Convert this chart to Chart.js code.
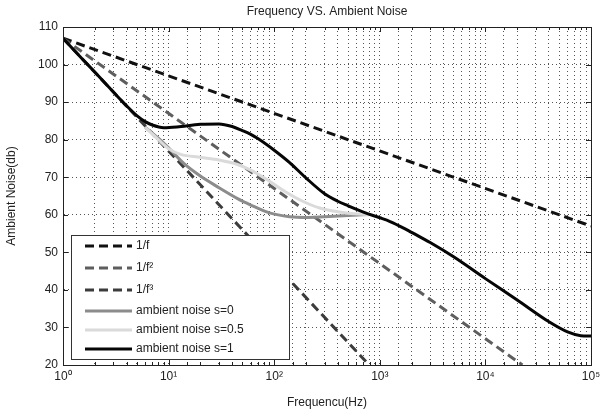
<!DOCTYPE html>
<html><head><meta charset="utf-8">
<script src="https://cdn.jsdelivr.net/npm/chart.js@4.4.1/dist/chart.umd.min.js"></script>
<style>html,body{margin:0;padding:0;background:#fff}#wrap{width:601px;height:410px}</style>
</head><body><div id="wrap"><canvas id="c" width="601" height="410"></canvas></div>
<script>
// ---- data ----
const freqInvF = [1, 100000];
const dbInvF = [107, 57];
const freqInvF2 = [1, 22400];
const dbInvF2 = [107, 20];
const freqInvF3 = [1, 794];
const dbInvF3 = [107, 20];

const freqS0 = [6.0, 8, 10, 14, 20, 30, 45, 60, 90, 140, 200, 300, 500, 800];
const dbS0   = [83.3, 80.4, 77.8, 73.6, 70.3, 67.2, 64.3, 62.6, 60.5, 59.5, 59.3, 59.5, 59.8, 60.1];

const freqS05 = [6.0, 8, 10, 13, 20, 30, 45, 60, 85, 130, 180, 270, 500, 800];
const dbS05   = [83.3, 80.0, 77.6, 76.1, 75.3, 74.6, 73.4, 71.9, 69.4, 66.0, 63.8, 61.8, 60.4, 60.0];

const freqS1 = [1, 1.5, 2, 3, 4, 5, 6, 7, 9, 12, 20, 30, 40, 50, 60, 70, 100, 140, 200, 300, 400, 500, 700, 1000, 1250, 1700, 2000, 3000, 5000, 10000, 20000, 40000, 60000, 80000, 100000];
const dbS1   = [107, 101.7, 98.0, 92.7, 89.0, 86.4, 84.8, 83.9, 83.2, 83.4, 84.1, 84.2, 83.5, 82.4, 81.4, 80.3, 77.2, 73.9, 69.8, 65.6, 63.6, 62.4, 60.7, 59.2, 58.2, 56.4, 55.3, 52.6, 48.8, 43.0, 37.3, 31.5, 28.8, 27.8, 27.7];

const seriesLabels = ['1/f', '1/f\u00B2', '1/f\u00B3', 'ambient noise s=0', 'ambient noise s=0.5', 'ambient noise s=1'];
const xTickLabels = ['10\u2070', '10\u00B9', '10\u00B2', '10\u00B3', '10\u2074', '10\u2075'];
const yTickValues = [20, 30, 40, 50, 60, 70, 80, 90, 100, 110];

const titleText = 'Frequency VS. Ambient Noise';
const xTitle = 'Frequencu(Hz)';
const yTitle = 'Ambient Noise(db)';

const pts = (xs, ys) => xs.map((x, i) => ({x: x, y: ys[i]}));
const FONT = '"Liberation Sans", Arial, Helvetica, sans-serif';

const dashed = (label, xs, ys, color, order) => ({
  label, data: pts(xs, ys), borderColor: color, borderWidth: 3,
  borderDash: [9, 5], pointRadius: 0, fill: false, tension: 0, order
});
const solid = (label, xs, ys, color, order) => ({
  label, data: pts(xs, ys), borderColor: color, borderWidth: 3,
  pointRadius: 0, fill: false, cubicInterpolationMode: 'monotone', order
});

const datasets = [
  dashed(seriesLabels[0], freqInvF, dbInvF, '#111111', 6),
  dashed(seriesLabels[1], freqInvF2, dbInvF2, '#5e5e5e', 5),
  dashed(seriesLabels[2], freqInvF3, dbInvF3, '#3c3c3c', 4),
  solid(seriesLabels[3], freqS0, dbS0, '#8c8c8c', 3),
  solid(seriesLabels[4], freqS05, dbS05, '#dadada', 2),
  solid(seriesLabels[5], freqS1, dbS1, '#050505', 1)
];

const decorPlugin = {
  id: 'decor',
  beforeDraw(chart) {
    const ctx = chart.ctx;
    ctx.save();
    ctx.fillStyle = '#ffffff';
    ctx.fillRect(0, 0, chart.width, chart.height);
    ctx.restore();
  },
  afterDraw(chart) {
    const ctx = chart.ctx, a = chart.chartArea;
    const xs = chart.scales.x, ys = chart.scales.y;
    ctx.save();
    ctx.strokeStyle = '#222';
    ctx.lineWidth = 1;
    ctx.strokeRect(Math.round(a.left) + 0.5, Math.round(a.top) + 0.5, Math.round(a.right - a.left), Math.round(a.bottom - a.top));
    ctx.beginPath();
    xs.ticks.forEach(t => {
      const px = Math.round(xs.getPixelForValue(t.value)) + 0.5;
      const l = Math.log10(t.value);
      const len = Math.abs(l - Math.round(l)) < 1e-9 ? 5 : 3;
      ctx.moveTo(px, a.bottom); ctx.lineTo(px, a.bottom - len);
      ctx.moveTo(px, a.top); ctx.lineTo(px, a.top + len);
    });
    ys.ticks.forEach(t => {
      const py = Math.round(ys.getPixelForValue(t.value)) + 0.5;
      ctx.moveTo(a.left, py); ctx.lineTo(a.left + 5, py);
      ctx.moveTo(a.right, py); ctx.lineTo(a.right - 5, py);
    });
    ctx.stroke();
    ctx.fillStyle = '#222';
    ctx.font = '12px ' + FONT;
    ctx.textAlign = 'center';
    ctx.textBaseline = 'middle';
    ctx.fillText(titleText, (a.left + a.right) / 2, 12);
    const bx = 71, by = 235, bw = 218, bh = 124;
    ctx.fillStyle = '#fff';
    ctx.fillRect(bx, by, bw, bh);
    ctx.strokeStyle = '#333';
    ctx.strokeRect(bx + 0.5, by + 0.5, bw, bh);
    const rows = [246, 268, 290, 311, 330, 349];
    chart.data.datasets.forEach((ds, i) => {
      const y = rows[i];
      ctx.save();
      ctx.strokeStyle = ds.borderColor;
      ctx.lineWidth = ds.borderWidth;
      ctx.setLineDash(ds.borderDash || []);
      ctx.beginPath();
      ctx.moveTo(85, y); ctx.lineTo(132, y);
      ctx.stroke();
      ctx.restore();
      ctx.fillStyle = '#222';
      ctx.textAlign = 'left';
      ctx.textBaseline = 'middle';
      ctx.font = '12px ' + FONT;
      ctx.fillText(ds.label, 136, y);
    });
    ctx.restore();
  }
};

new Chart(document.getElementById('c'), {
  type: 'line',
  data: { datasets },
  options: {
    responsive: false,
    animation: false,
    devicePixelRatio: 1,
    layout: { padding: { top: 27, right: 10, left: 0, bottom: 0 } },
    plugins: { legend: { display: false }, title: { display: false }, tooltip: { enabled: false } },
    scales: {
      x: {
        type: 'logarithmic', min: 1, max: 100000, position: 'bottom',
        afterFit: s => { s.height = 45; s.paddingLeft = 0; s.paddingRight = 0; },
        ticks: {
          autoSkip: false, maxRotation: 0, minRotation: 0, padding: 4, color: '#222',
          font: { family: FONT, size: 12 },
          callback: v => {
            const l = Math.log10(v);
            return Math.abs(l - Math.round(l)) < 1e-9 ? xTickLabels[Math.round(l)] : '';
          }
        },
        grid: { color: '#555', lineWidth: 1, drawTicks: false },
        border: { display: true, color: '#222', width: 1, dash: [1, 3] },
        title: { display: true, text: xTitle, color: '#222', font: { family: FONT, size: 12 }, padding: { top: 2, bottom: 0 } }
      },
      y: {
        type: 'linear', min: 20, max: 110,
        afterFit: s => { s.width = 63; s.paddingTop = 0; s.paddingBottom = 0; },
        afterBuildTicks: s => { s.ticks = yTickValues.map(v => ({ value: v })); },
        ticks: { padding: 5, color: '#222', font: { family: FONT, size: 12 } },
        grid: { color: '#555', lineWidth: 1, drawTicks: false },
        border: { display: true, color: '#222', width: 1, dash: [1, 3] },
        title: { display: true, text: yTitle, color: '#222', font: { family: FONT, size: 12 }, padding: { top: 4, bottom: 4 } }
      }
    }
  },
  plugins: [decorPlugin]
});
</script></body></html>
